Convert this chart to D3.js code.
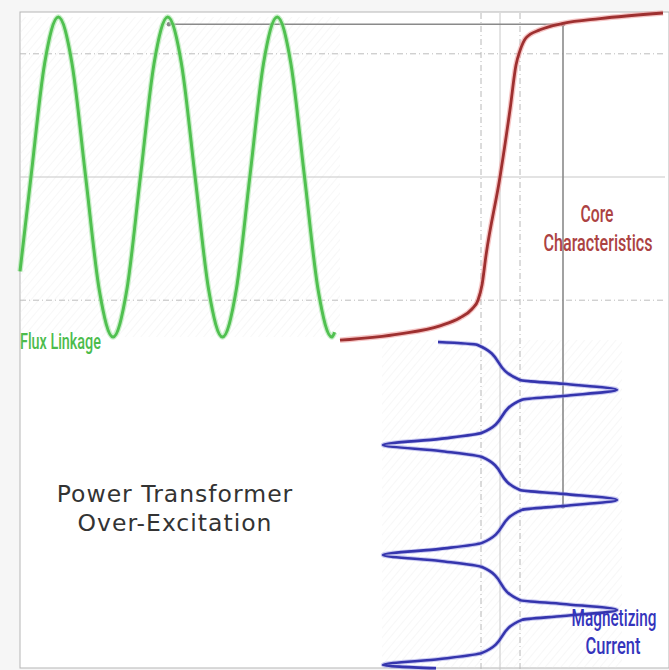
<!DOCTYPE html>
<html>
<head>
<meta charset="utf-8">
<script src="https://cdn.jsdelivr.net/npm/d3@7"></script>
<style>
  body {margin: 0; background: #f6f6f6}
</style>
</head>
<body>
<div id="chart"></div>
<script>
// flux linkage vs time  [t (ms), flux (pu)]
var fluxLinkage = [[-2, -0.59], [0, 0], [2.5, 0.71], [5, 1], [7.5, 0.71], [10, 0], [12.5, -0.71], [15, -1],
  [17.5, -0.71], [20, 0], [22.5, 0.71], [25, 1], [27.5, 0.71], [30, 0], [32.5, -0.71], [35, -1],
  [37.5, -0.71], [40, 0], [42.5, 0.71], [45, 1], [47.5, 0.71], [50, 0], [52.5, -0.71], [55, -1], [55.5, -0.97]]

// core characteristic  [current (A), flux (pu)]
var coreCurve = [[-8, -1.02], [-5, -0.98], [-3, -0.93], [-2, -0.88], [-1.4, -0.825], [-1.1, -0.77],
  [-0.9, -0.675], [-0.7, -0.49], [0, 0], [0.5, 0.42], [0.8, 0.7], [1.0, 0.79], [1.3, 0.87],
  [2.0, 0.92], [3.15, 0.96], [5, 0.99], [8.15, 1.025]]

// magnetizing current vs time  [t (ms), current (A)]
var magCurrent = [[-3.7, -3.1], [-3.2, -1.15], [3.2, 1.0], [3.9, 3.15], [5, 5.85], [6.1, 3.15], [6.8, 1.1],
  [12.8, -0.9], [13.9, -3], [15, -5.85], [16.1, -3], [17.2, -0.9], [23.2, 1.0], [23.9, 3.15], [25, 5.85],
  [26.1, 3.15], [26.8, 1.1], [32.8, -0.9], [33.9, -3], [35, -5.85], [36.1, -3], [37.2, -0.9], [43.2, 1.0],
  [43.9, 3.15], [45, 5.85], [46.1, 3.15], [46.8, 1.1], [52.8, -0.9], [53.9, -3], [55, -5.85], [55.6, -3.2]]

var fluxGrid = [0.77, -0.77]      // dash-dot knee lines
var currentGrid = [-0.95, 1.0]    // dash-dot knee lines
var peakFlux = 0.955, peakCurrent = 3.15, peakTime = 25.8

var fluxLabel = ["Flux Linkage"]
var coreLabel = ["Core", "Characteristics"]
var currentLabel = ["Magnetizing", "Current"]
var titleLines = ["Power Transformer", "Over-Excitation"]

var width = 669, height = 670

var svg = d3.select("#chart").append("svg")
  .attr("width", width)
  .attr("height", height)

var defs = svg.append("defs")
var hatch = defs.append("pattern")
  .attr("id", "hatch")
  .attr("width", 6).attr("height", 6)
  .attr("patternUnits", "userSpaceOnUse")
  .attr("patternTransform", "rotate(40)")
hatch.append("line").attr("x1", 0).attr("y1", 0).attr("x2", 0).attr("y2", 6)
  .attr("stroke", "#e6e6e6").attr("stroke-width", 1)

var tX = d3.scaleLinear().domain([-2, 55.2]).range([20, 333])       // time -> x (green)
var tY = d3.scaleLinear().domain([-3.7, 55]).range([342, 665])      // time -> y (blue)
var fY = d3.scaleLinear().domain([-1, 1]).range([337, 17])          // flux -> y
var iX = d3.scaleLinear().domain([-8, 8]).range([340, 660])         // current -> x

// frame
svg.append("rect").attr("x", 20).attr("y", 12).attr("width", width - 20).attr("height", height - 14)
  .attr("fill", "#fff").attr("stroke", "#b5b5b5")

svg.append("rect").attr("x", 20).attr("y", 17).attr("width", 320).attr("height", 320)
  .attr("fill", "url(#hatch)").attr("opacity", 0.6)
svg.append("rect").attr("x", 382).attr("y", 340).attr("width", 240).attr("height", 328)
  .attr("fill", "url(#hatch)").attr("opacity", 0.6)

var grid = svg.append("g")
grid.append("line").attr("x1", 20).attr("x2", 665).attr("y1", fY(0)).attr("y2", fY(0))
  .attr("stroke", "#c8c8c8").attr("stroke-width", 1.2)
grid.selectAll(".hdash").data(fluxGrid).join("line")
  .attr("x1", 20).attr("x2", 665).attr("y1", d => fY(d)).attr("y2", d => fY(d))
  .attr("stroke", "#bdbdbd").attr("stroke-dasharray", "6,3,1,3")
grid.selectAll(".vdash").data(currentGrid).join("line")
  .attr("x1", d => iX(d)).attr("x2", d => iX(d)).attr("y1", 13).attr("y2", height)
  .attr("stroke", "#b8b8b8").attr("stroke-dasharray", "6,3,1,3")
grid.append("line").attr("x1", iX(0)).attr("x2", iX(0)).attr("y1", 13).attr("y2", height)
  .attr("stroke", "#c8c8c8")

// projection lines from the flux peak
grid.append("line").attr("x1", tX(peakTime - 0.6)).attr("x2", iX(peakCurrent))
  .attr("y1", fY(peakFlux)).attr("y2", fY(peakFlux))
  .attr("stroke", "#8a8a8a").attr("stroke-width", 1.6)
grid.append("line").attr("x1", iX(peakCurrent)).attr("x2", iX(peakCurrent))
  .attr("y1", fY(peakFlux)).attr("y2", tY(peakTime) + 2)
  .attr("stroke", "#8a8a8a").attr("stroke-width", 1.6)
grid.selectAll(".dot").data([[tX(peakTime - 0.6), fY(peakFlux)], [iX(peakCurrent), fY(peakFlux)], [iX(peakCurrent), tY(peakTime) + 2]])
  .join("circle").attr("cx", d => d[0]).attr("cy", d => d[1]).attr("r", 2.2).attr("fill", "#888")

// green flux linkage
var fluxLine = d3.line().x(d => tX(d[0])).y(d => fY(d[1])).curve(d3.curveMonotoneX)
svg.append("path").datum(fluxLinkage).attr("d", fluxLine)
  .attr("fill", "none").attr("stroke", "#a8e4a8").attr("stroke-width", 5.5).attr("opacity", 0.6)
svg.append("path").datum(fluxLinkage).attr("d", fluxLine)
  .attr("fill", "none").attr("stroke", "#50c050").attr("stroke-width", 3)

// red core characteristic
var coreLine = d3.line().x(d => iX(d[0])).y(d => fY(d[1])).curve(d3.curveMonotoneX)
svg.append("path").datum(coreCurve).attr("d", coreLine)
  .attr("fill", "none").attr("stroke", "#f0a0a0").attr("stroke-width", 5.5).attr("opacity", 0.6)
svg.append("path").datum(coreCurve).attr("d", coreLine)
  .attr("fill", "none").attr("stroke", "#9e3030").attr("stroke-width", 2.8)

// blue magnetizing current
var currentLine = d3.line().x(d => iX(d[1])).y(d => tY(d[0])).curve(d3.curveMonotoneY)
svg.append("path").datum(magCurrent).attr("d", currentLine)
  .attr("fill", "none").attr("stroke", "#9a9ae8").attr("stroke-width", 4.5).attr("opacity", 0.5)
svg.append("path").datum(magCurrent).attr("d", currentLine)
  .attr("fill", "none").attr("stroke", "#3535ad").attr("stroke-width", 2.6)

// condensed labels: squeeze each line to the width it has in the picture
function narrowLabel(lines, cx, y0, step, widths, color, size) {
  svg.selectAll(null).data(lines).join("text")
    .attr("font-family", "Roboto, sans-serif")
    .attr("font-weight", 500)
    .attr("font-size", size)
    .attr("fill", color)
    .attr("text-anchor", "middle")
    .text(d => d)
    .attr("transform", function(d, i) {
      var k = widths[i] / this.getComputedTextLength()
      return "translate(" + cx[i] + "," + (y0 + i * step) + ") scale(" + k + ",1)"
    })
}

narrowLabel(fluxLabel, [60.5], 349, 0, [81], "#4cbc4c", 22)
narrowLabel(coreLabel, [597, 598], 222, 29, [33, 109], "#ac4242", 23)
narrowLabel(currentLabel, [614, 613], 626, 28, [85, 55], "#3434bc", 23)

svg.selectAll(".title").data(titleLines).join("text")
  .attr("x", 175).attr("y", (d, i) => 502 + i * 29)
  .attr("text-anchor", "middle")
  .attr("font-family", "DejaVu Sans, Verdana, sans-serif")
  .attr("font-size", 23.5).attr("letter-spacing", 1)
  .attr("fill", "#333").text(d => d)
</script>
</body>
</html>
